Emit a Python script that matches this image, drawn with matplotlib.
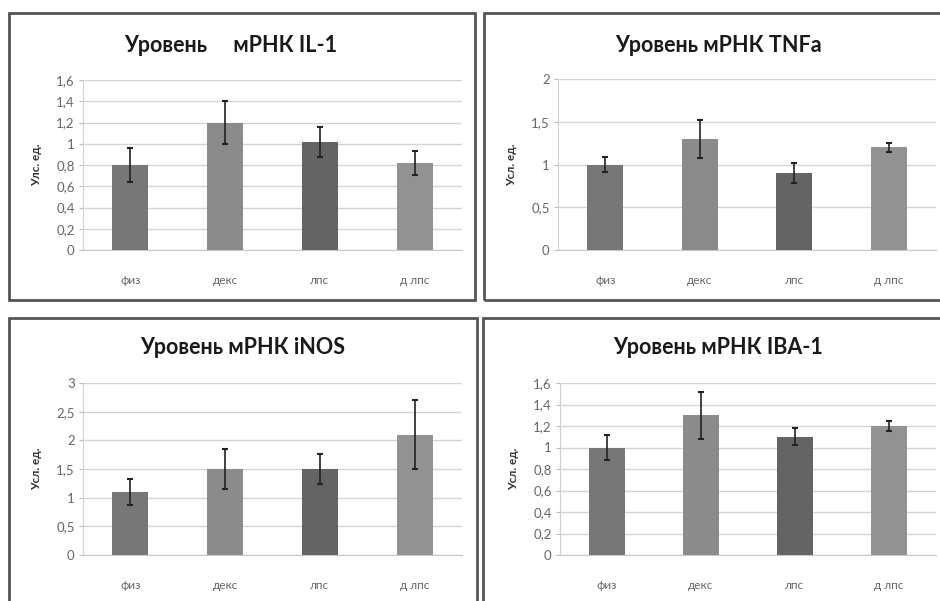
import matplotlib
matplotlib.use('Agg')
import matplotlib.pyplot as plt
import matplotlib.patches as patches
from matplotlib.ticker import FuncFormatter
import numpy as np

plt.rcParams['font.family'] = ['Lato', 'DejaVu Sans']

# data
groups = ['физ', 'декс', 'лпс', 'д лпс']

il1 = [0.80, 1.20, 1.02, 0.82]
il1_err = [0.16, 0.20, 0.14, 0.11]

tnfa = [1.00, 1.30, 0.90, 1.20]
tnfa_err = [0.09, 0.22, 0.12, 0.05]

inos = [1.10, 1.50, 1.50, 2.10]
inos_err = [0.22, 0.35, 0.27, 0.60]

iba1 = [1.00, 1.30, 1.10, 1.20]
iba1_err = [0.12, 0.22, 0.08, 0.05]

bar_colors = ['#777777', '#8b8b8b', '#646464', '#929292']

W, H = 940, 601
fig = plt.figure(figsize=(W / 100, H / 100), dpi=100)


def fx(px):
    return px / W


def fy(py):
    return 1 - py / H


def add_box(x0, y0, x1, y1):
    r = patches.Rectangle((fx(x0), fy(y1)), fx(x1) - fx(x0), fy(y0) - fy(y1),
                          transform=fig.transFigure, fill=False,
                          edgecolor='#555555', linewidth=2)
    fig.patches.append(r)


def comma(v, pos):
    s = ('%g' % round(v, 2)).replace('.', ',')
    return s


def panel(box, ax_px, vals, errs, ymax, ystep, title, title_x, title_y, ylab):
    add_box(*box)
    x0, y0, x1, y1 = ax_px
    ax = fig.add_axes([fx(x0), fy(y1), fx(x1) - fx(x0), fy(y0) - fy(y1)])
    x = np.arange(len(groups))
    ax.bar(x, vals, width=0.38, color=bar_colors, zorder=3)
    ax.errorbar(x, vals, yerr=errs, fmt='none', ecolor='#222222',
                elinewidth=1.2, capsize=2.5, capthick=1.5, zorder=4)
    ax.set_xlim(-0.5, 3.5)
    ax.set_ylim(0, ymax)
    ax.set_yticks(np.arange(0, ymax + ystep / 2, ystep))
    ax.yaxis.set_major_formatter(FuncFormatter(comma))
    ax.grid(axis='y', color='#d4d4d4', linewidth=1, zorder=0)
    for s in ['top', 'right']:
        ax.spines[s].set_visible(False)
    ax.spines['left'].set_color('#d0d0d0')
    ax.spines['bottom'].set_color('#c8c8c8')
    ax.set_xticks(x)
    ax.set_xticklabels(groups)
    ax.tick_params(axis='x', length=0, pad=18, labelsize=8.5, labelcolor='#666666')
    ax.tick_params(axis='y', length=3, color='#bbbbbb', pad=3, labelsize=9.5,
                   labelcolor='#666666')
    ax.set_ylabel(ylab, fontsize=8.5, fontweight='bold', color='#333333', labelpad=10)
    fig.text(fx(title_x), fy(title_y), title, ha='center', va='center',
             fontsize=15.5, fontweight='bold', color='#1a1a1a')
    return ax


panel((9, 13, 475, 300), (83, 80, 462, 250), il1, il1_err, 1.6, 0.2,
      'Уровень     мРНК IL-1', 231, 45, 'Улс. ед.')
panel((484, 13, 948, 300), (558, 79, 936, 250), tnfa, tnfa_err, 2.0, 0.5,
      'Уровень мРНК TNFa', 718, 45, 'Усл. ед.')
panel((9, 318, 477, 610), (83, 383, 462, 555), inos, inos_err, 3.0, 0.5,
      'Уровень мРНК iNOS', 243, 348, 'Усл. ед.')
panel((483, 318, 948, 610), (560, 383, 936, 555), iba1, iba1_err, 1.6, 0.2,
      'Уровень мРНК IBA-1', 718, 348, 'Усл. ед.')

fig.savefig('out.png', dpi=100)
